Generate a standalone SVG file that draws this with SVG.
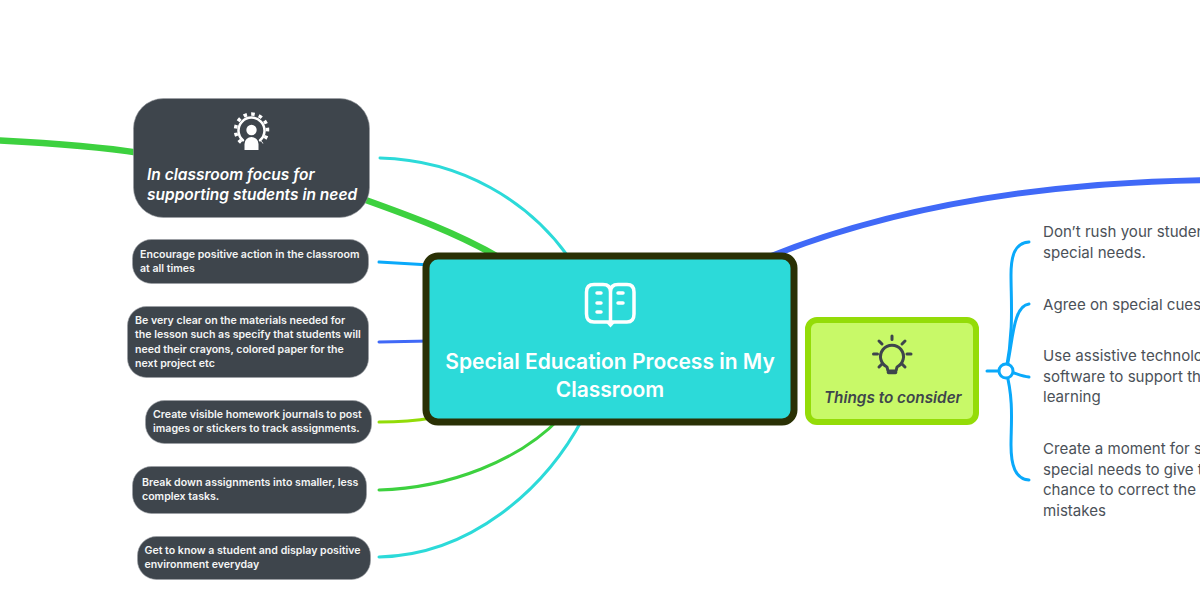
<svg xmlns="http://www.w3.org/2000/svg" width="1200" height="600" viewBox="0 0 1200 600">
<style>
text{font-family:"Inter","Noto Sans","Liberation Sans",sans-serif}
.c{fill:none;stroke-linecap:round}
.n{fill:#3e454c;stroke:#9a9ea3;stroke-width:.6}
.s{fill:#f4f5f5;font-size:10.6px;font-weight:600}
.r{fill:#4b5158;font-size:15.1px}
.i{fill:none;stroke:#fff;stroke-linecap:round;stroke-linejoin:round}
</style>
<g id="connectors">
<path class="c" d="M-10 140C50 143 95 146 140 153" stroke="#3dd13f" stroke-width="6.500"/>
<path class="c" d="M360 198C410 216 455 232 500 258" stroke="#3dd13f" stroke-width="6.500"/>
<path class="c" d="M380 158C460 160 530 200 572 262" stroke="#2cdad9" stroke-width="3"/>
<path class="c" d="M379 262L430 265" stroke="#0aa9fa" stroke-width="3"/>
<path class="c" d="M379 342L430 341" stroke="#4069f7" stroke-width="3"/>
<path class="c" d="M379 422C400 422 415 421 432 418" stroke="#92dc08" stroke-width="3"/>
<path class="c" d="M379 490C450 488 520 460 560 418" stroke="#3dd13f" stroke-width="3"/>
<path class="c" d="M379 557C470 555 545 490 583 418" stroke="#2cdad9" stroke-width="3"/>
<path class="c" d="M766 258C897 205 1050 182 1210 180" stroke="#4069f7" stroke-width="6"/>
<g stroke="#0aa9fa" stroke-width="3">
<path class="c" d="M987 371H1006"/>
<path class="c" d="M1006 371C1014 330 1011 300 1011 275C1011 255 1015 243 1029 242"/>
<path class="c" d="M1006 371C1013 345 1012 306 1029 304"/>
<path class="c" d="M1006 371C1014 372 1020 376 1029 377"/>
<path class="c" d="M1006 371C1014 400 1011 425 1011 445C1011 465 1015 479 1029 480"/>
<circle cx="1006" cy="371" r="7" fill="#fff"/>
</g>
</g>
<g id="node-focus">
<rect class="n" x="133.500" y="98.500" width="236" height="119" rx="30"/>
<path class="i" stroke-width="2.500" d="M242.900 140.300A13 13 0 1 1 260.100 140.300"/>
<path fill="none" stroke="#fff" stroke-width="3.500" stroke-dasharray="3.500 4.200" d="M241.200 142.300A16 16 0 1 1 261.800 142.300"/>
<circle cx="251.500" cy="130" r="5.200" fill="#fff"/>
<path d="M244.500 150V144A7 7 0 0 1 258.500 144V150Z" fill="#fff"/>
<text x="147" y="180" fill="#fff" font-size="15.500" font-weight="600" font-style="italic">In classroom focus for</text>
<text x="147" y="200" fill="#fff" font-size="15.500" font-weight="600" font-style="italic">supporting students in need</text>
</g>
<g id="node-encourage">
<rect class="n" x="132.500" y="239.500" width="236" height="44" rx="19"/>
<text class="s" x="140" y="258">Encourage positive action in the classroom</text>
<text class="s" x="140" y="272">at all times</text>
</g>
<g id="node-materials">
<rect class="n" x="127.500" y="306.500" width="241" height="71" rx="19"/>
<text class="s" x="135" y="324">Be very clear on the materials needed for</text>
<text class="s" x="135" y="338">the lesson such as specify that students will</text>
<text class="s" x="135" y="353">need their crayons, colored paper for the</text>
<text class="s" x="135" y="367">next project etc</text>
</g>
<g id="node-homework">
<rect class="n" x="145.500" y="400.500" width="226" height="43" rx="19"/>
<text class="s" x="153" y="418">Create visible homework journals to post</text>
<text class="s" x="153" y="432">images or stickers to track assignments.</text>
</g>
<g id="node-break">
<rect class="n" x="132.500" y="466.500" width="234" height="47" rx="19"/>
<text class="s" x="142" y="486">Break down assignments into smaller, less</text>
<text class="s" x="142" y="500">complex tasks.</text>
</g>
<g id="node-know">
<rect class="n" x="137.500" y="536.500" width="233" height="43" rx="19"/>
<text class="s" x="144.500" y="554" font-size="10.700">Get to know a student and display positive</text>
<text class="s" x="144.500" y="568" font-size="10.700">environment everyday</text>
</g>
<g id="node-root">
<rect x="426" y="256" width="368" height="166" rx="12" fill="#2cdad9" stroke="#2a3105" stroke-width="7"/>
<g class="i" stroke-width="3.500"><path d="M610.500 322H594Q586.500 322 586.500 314V292Q586.500 284.500 594 284.500H603Q610.500 284.500 610.500 292ZM610.500 322H627Q634 322 634 314V292Q634 284.500 627 284.500H618Q610.500 284.500 610.500 292Z"/><path d="M597 293H601M597 303H601M597 312H601M618 293H623M618 303H623"/></g>
<path d="M606.500 323H614.500L610.500 327.500Z" fill="#fff"/>
<text x="610" y="369" text-anchor="middle" fill="#fff" font-size="21" font-weight="600">Special Education Process in My</text>
<text x="610" y="397" text-anchor="middle" fill="#fff" font-size="21" font-weight="600">Classroom</text>
</g>
<g id="node-consider">
<rect x="808" y="320" width="168" height="102" rx="9" fill="#c8f968" stroke="#94dc08" stroke-width="6"/>
<g fill="none" stroke="#3e454c" stroke-width="3" stroke-linecap="round" stroke-linejoin="round"><path d="M887 367A11.500 11.500 0 1 1 897 367L896 371H888Z"/><path d="M888.500 372.500H895.500" stroke-width="3.500"/><path d="M892 336V339.500M879 341L882 344M905 341L902 344M873.500 354H877.500M911 354H907M879 367L882 364M905 367L902 364"/></g>
<text x="824" y="403" fill="#3e454c" font-size="15.300" font-weight="600" font-style="italic">Things to consider</text>
</g>
<g id="node-tip1"><text class="r" x="1043" y="237">Don’t rush your studen</text><text class="r" x="1043" y="258">special needs.</text></g>
<g id="node-tip2"><text class="r" x="1043" y="310">Agree on special cues</text></g>
<g id="node-tip3"><text class="r" x="1043" y="361">Use assistive technolo</text><text class="r" x="1043" y="382">software to support th</text><text class="r" x="1043" y="402">learning</text></g>
<g id="node-tip4"><text class="r" x="1043" y="454">Create a moment for s</text><text class="r" x="1043" y="475">special needs to give t</text><text class="r" x="1043" y="495">chance to correct the</text><text class="r" x="1043" y="516">mistakes</text></g>
</svg>
